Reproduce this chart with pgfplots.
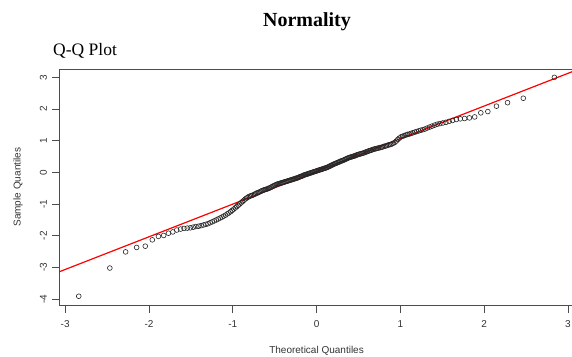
\documentclass[border=0pt]{standalone}
\usepackage{pgfplots}
\pgfplotsset{compat=1.18}
\usepackage{fontspec}
\setmainfont{Liberation Serif}
\newfontfamily\hv{Liberation Sans}
\pgfplotstableread{
z y
-2.838 -3.91
-2.467 -3.02
-2.279 -2.51
-2.147 -2.37
-2.044 -2.33
-1.960 -2.13
-1.887 -2.02
-1.824 -1.99
-1.767 -1.92
-1.715 -1.88
-1.668 -1.82
-1.623 -1.79
-1.582 -1.77
-1.543 -1.76
-1.507 -1.75
-1.472 -1.73
-1.440 -1.71
-1.408 -1.70
-1.378 -1.68
-1.349 -1.66
-1.321 -1.64
-1.295 -1.62
-1.269 -1.59
-1.244 -1.56
-1.220 -1.53
-1.196 -1.50
-1.173 -1.47
-1.150 -1.44
-1.128 -1.41
-1.107 -1.38
-1.086 -1.35
-1.066 -1.31
-1.046 -1.28
-1.026 -1.24
-1.007 -1.20
-0.988 -1.16
-0.970 -1.12
-0.952 -1.08
-0.935 -1.04
-0.917 -1.00
-0.900 -0.96
-0.883 -0.92
-0.866 -0.88
-0.850 -0.84
-0.834 -0.81
-0.818 -0.78
-0.802 -0.76
-0.786 -0.74
-0.771 -0.73
-0.755 -0.71
-0.740 -0.69
-0.725 -0.67
-0.711 -0.65
-0.696 -0.64
-0.682 -0.62
-0.667 -0.60
-0.653 -0.58
-0.639 -0.57
-0.625 -0.55
-0.611 -0.54
-0.598 -0.53
-0.584 -0.52
-0.571 -0.50
-0.557 -0.49
-0.544 -0.47
-0.531 -0.45
-0.518 -0.43
-0.505 -0.42
-0.492 -0.40
-0.479 -0.38
-0.467 -0.37
-0.454 -0.36
-0.441 -0.35
-0.429 -0.34
-0.417 -0.33
-0.404 -0.32
-0.392 -0.31
-0.380 -0.30
-0.367 -0.29
-0.355 -0.28
-0.343 -0.27
-0.331 -0.26
-0.319 -0.25
-0.307 -0.24
-0.295 -0.23
-0.283 -0.22
-0.272 -0.21
-0.260 -0.20
-0.248 -0.19
-0.236 -0.18
-0.225 -0.17
-0.213 -0.16
-0.201 -0.14
-0.189 -0.13
-0.178 -0.12
-0.166 -0.11
-0.155 -0.09
-0.143 -0.08
-0.131 -0.07
-0.120 -0.06
-0.108 -0.05
-0.097 -0.04
-0.086 -0.03
-0.074 -0.02
-0.063 -0.01
-0.051 0.00
-0.040 0.01
-0.028 0.02
-0.017 0.03
-0.006 0.04
0.006 0.05
0.017 0.06
0.028 0.07
0.040 0.08
0.051 0.09
0.063 0.10
0.074 0.11
0.086 0.12
0.097 0.13
0.108 0.14
0.120 0.15
0.131 0.16
0.143 0.18
0.155 0.19
0.166 0.21
0.178 0.22
0.189 0.24
0.201 0.25
0.213 0.27
0.225 0.28
0.236 0.29
0.248 0.31
0.260 0.32
0.272 0.33
0.283 0.35
0.295 0.36
0.307 0.37
0.319 0.38
0.331 0.40
0.343 0.41
0.355 0.43
0.367 0.44
0.380 0.46
0.392 0.47
0.404 0.48
0.417 0.49
0.429 0.50
0.441 0.51
0.454 0.52
0.467 0.53
0.479 0.55
0.492 0.56
0.505 0.57
0.518 0.58
0.531 0.59
0.544 0.60
0.557 0.61
0.571 0.62
0.584 0.64
0.598 0.65
0.611 0.66
0.625 0.68
0.639 0.69
0.653 0.70
0.667 0.72
0.682 0.73
0.696 0.74
0.711 0.75
0.725 0.76
0.740 0.77
0.755 0.78
0.771 0.79
0.786 0.80
0.802 0.82
0.818 0.83
0.834 0.84
0.850 0.86
0.866 0.87
0.883 0.88
0.900 0.90
0.917 0.92
0.935 0.95
0.952 0.99
0.970 1.04
0.988 1.08
1.007 1.12
1.026 1.14
1.046 1.16
1.066 1.18
1.086 1.20
1.107 1.21
1.128 1.23
1.150 1.25
1.173 1.27
1.196 1.29
1.220 1.31
1.244 1.33
1.269 1.35
1.295 1.37
1.321 1.40
1.349 1.43
1.378 1.46
1.408 1.49
1.440 1.52
1.472 1.54
1.507 1.56
1.543 1.58
1.582 1.61
1.623 1.64
1.668 1.67
1.715 1.69
1.767 1.70
1.824 1.72
1.887 1.75
1.960 1.88
2.044 1.92
2.147 2.09
2.279 2.20
2.467 2.34
2.838 3.00
}\qqdata
\begin{document}
\begin{tikzpicture}[x=1bp,y=1bp]
\useasboundingbox (0,0) rectangle (572,356);
\node[anchor=base, inner sep=0pt, font=\fontsize{20bp}{24bp}\selectfont\bfseries] at (307,330) {Normality};
\node[anchor=base west, inner sep=0pt, font=\fontsize{17.5bp}{20bp}\selectfont] at (53,301) {Q-Q Plot};
\begin{axis}[
  at={(59.3bp,50.9bp)}, anchor=south west,
  scale only axis, width=514.5bp, height=236bp,
  xmin=-3.07, xmax=3.07, ymin=-4.19, ymax=3.26,
  xtick={-3,-2,-1,0,1,2,3}, xticklabels={-3,-2,-1,0,1,2,3},
  ytick={-4,-3,-2,-1,0,1,2,3}, yticklabels={-4,-3,-2,-1,0,1,2,3},
  xtick pos=bottom, ytick pos=left,
  tick align=outside, major tick length=7.5bp,
  tick style={black!70, line width=0.7bp},
  axis line style={black!70, line width=0.8bp},
  ticklabel style={font=\hv\fontsize{10bp}{12bp}\selectfont, text=black!80},
  xticklabel style={anchor=base, inner sep=0pt, yshift=-15bp},
  yticklabel style={rotate=90, anchor=base, inner sep=0pt},
  yticklabel shift=5bp,
  xlabel={Theoretical Quantiles}, ylabel={Sample Quantiles},
  label style={font=\hv\fontsize{10bp}{12bp}\selectfont, text=black!80},
  xlabel style={at={(axis description cs:0.5,0)}, anchor=base, inner sep=0pt, yshift=-48bp},
  ylabel style={at={(axis description cs:-0.0754,0.5)}, anchor=base, inner sep=0pt},
]
\addplot[only marks, mark=o, mark size=2.4bp, mark options={line width=0.6bp, draw=black!85}] table[x=z, y=y] {\qqdata};
\addplot[red, line width=1.2bp] coordinates {(-3.07,-3.138) (3.07,3.198)};
\end{axis}
\end{tikzpicture}
\end{document}
